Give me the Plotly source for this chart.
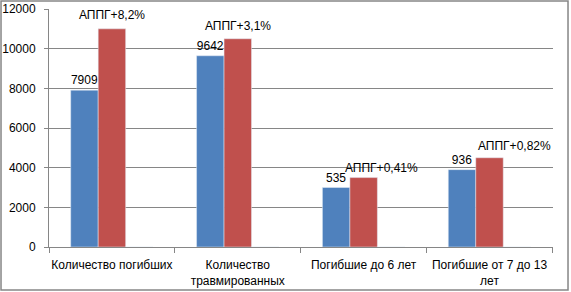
import plotly.graph_objects as go

categories = ["Количество погибших", "Количество<br>травмированных", "Погибшие до 6 лет", "Погибшие от 7 до 13<br>лет"]
series_blue = [7909, 9642, 3000, 3900]
series_red = [11000, 10500, 3500, 4500]
series_empty = [0, 0, 0, 0]
blue_labels = ["7909", "9642", "535", "936"]
red_labels = ["АППГ+8,2%", "АППГ+3,1%", "АППГ+0,41%", "АППГ+0,82%"]
y_ticks = [0, 2000, 4000, 6000, 8000, 10000, 12000]
y_tick_text = ["0", "2000", "4000", "6000", "8000", "10000", "12000"]

FONT = "Liberation Sans, Arial"

fig = go.Figure()
fig.add_bar(x=categories, y=series_blue, marker_color="#4F81BD", text=blue_labels,
            textposition="outside", constraintext="none",
            textfont=dict(size=12, color="#000000", family=FONT),
            cliponaxis=False, name="s1")
fig.add_bar(x=categories, y=series_red, marker_color="#C0504D", name="s2")
fig.add_bar(x=categories, y=series_empty, marker_color="rgba(0,0,0,0)", name="s3")

shifts = [(0, 14), (0, 12.5), (18, 10), (25, 12)]
for c, v, t, (dx, dy) in zip(categories, series_red, red_labels, shifts):
    fig.add_annotation(x=c, y=v, text=t, showarrow=False, xshift=dx, yshift=dy,
                       font=dict(size=12, color="#000000", family=FONT))

fig.add_shape(type="rect", xref="paper", yref="paper", x0=-0.0952, x1=1.0298, y0=-0.1807, y1=1.0336,
              line=dict(color="#868686", width=1.5), layer="below")

fig.update_layout(
    width=571, height=292, showlegend=False,
    margin=dict(l=49, r=18, t=9, b=45),
    plot_bgcolor="white", paper_bgcolor="white",
    barmode="group", bargap=0.345, bargroupgap=0,
    font=dict(family=FONT, size=12, color="#000000"),
    xaxis=dict(showline=True, linecolor="#868686", linewidth=1, ticks="outside", tickson="boundaries",
               ticklen=5, tickcolor="#868686", tickangle=0, automargin=False, ticklabelstandoff=7,
               tickfont=dict(size=12, family=FONT)),
    yaxis=dict(range=[0, 12000], tickvals=y_ticks, ticktext=y_tick_text, showgrid=True,
               gridcolor="#868686", gridwidth=1, automargin=False, ticklabelstandoff=6,
               showline=True, linecolor="#868686", linewidth=1, ticks="outside", ticklen=4,
               tickcolor="#868686", zeroline=False, tickfont=dict(size=12, family=FONT)),
)

fig.write_html("out.html", config={"displayModeBar": False},
               post_script="document.body.style.margin='0';document.body.style.overflow='hidden';")
